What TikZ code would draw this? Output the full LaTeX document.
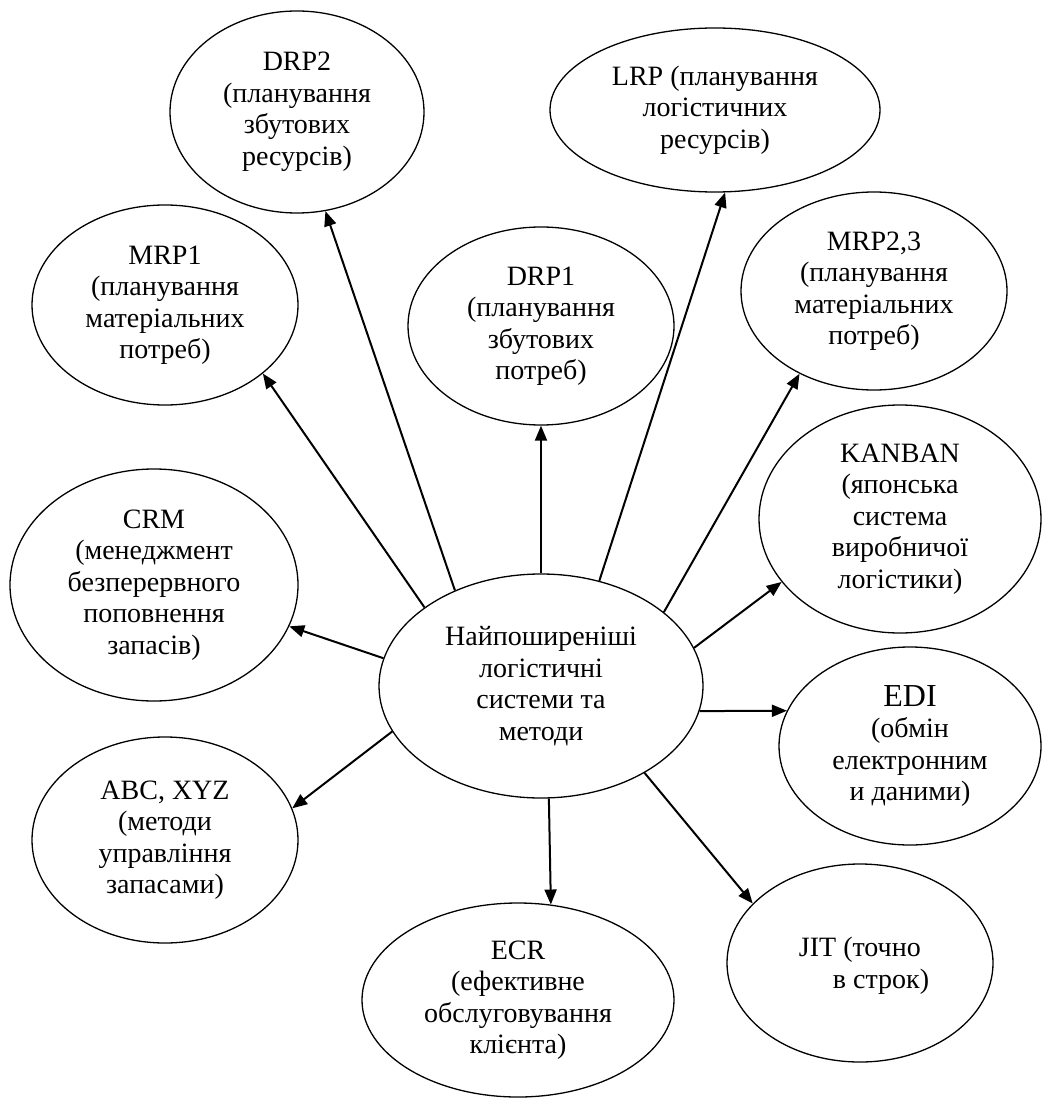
\documentclass[tikz,border=0pt]{standalone}
\usepackage{fontspec}
\setmainfont{Liberation Serif}
\usetikzlibrary{shapes.geometric,arrows.meta}
\begin{document}
\begin{tikzpicture}[x=1pt,y=-1pt,
  oval/.style={draw,ellipse,line width=1.3pt,inner sep=0pt,align=center,
    font=\fontsize{28}{31.5}\selectfont},
  arr/.style={line width=2pt,-{Triangle[length=15pt,width=12pt]}}]
\useasboundingbox (0,0) rectangle (1041,1099);
\node[oval,minimum width=324pt,minimum height=224pt] (c) at (541,686) {Найпоширеніші\\логістичні\\системи та\\методи};
\node[oval,minimum width=254pt,minimum height=202pt] (drp2) at (297,112) {DRP2\\(планування\\збутових\\ресурсів)};
\node[oval,minimum width=266pt,minimum height=200pt] (mrp1) at (165,305) {MRP1\\(планування\\матеріальних\\потреб)};
\node[oval,minimum width=266pt,minimum height=198pt] (drp1) at (541,326) {DRP1\\(планування\\збутових\\потреб)};
\node[oval,minimum width=330pt,minimum height=164pt] (lrp) at (715,110) {LRP (планування\\логістичних\\ресурсів)};
\node[oval,minimum width=266pt,minimum height=198pt] (mrp2) at (874,291) {MRP2,3\\(планування\\матеріальних\\потреб)};
\node[oval,minimum width=288pt,minimum height=232pt] (crm) at (154,585) {CRM\\(менеджмент\\безперервного\\поповнення\\запасів)};
\node[oval,minimum width=282pt,minimum height=228pt] (kanban) at (900,519) {KANBAN\\(японська\\система\\виробничої\\логістики)};
\node[oval,minimum width=262pt,minimum height=198pt] (edi) at (910,746) {{\fontsize{32}{34}\selectfont EDI}\\(обмін\\електронним\\и даними)};
\node[oval,minimum width=266pt,minimum height=206pt] (abc) at (165,840) {ABC, XYZ\\(методи\\управління\\запасами)};
\node[oval,minimum width=312pt,minimum height=194pt] (ecr) at (518,1000) {ECR\\(ефективне\\обслуговування\\клієнта)};
\node[oval,minimum width=266pt,minimum height=198pt,align=left,text depth=0pt] (jit) at (860,963) {\hspace*{8pt}JIT (точно\\\hspace*{42pt}в строк)};
\draw[arr] (c.132.8) -- (drp2.286.5);
\draw[arr] (c.146.1) -- (mrp1.325.3);
\draw[arr] (c.90) -- (drp1.270);
\draw[arr] (c.61.7) -- (lrp.277);
\draw[arr] (c.31.9) -- (mrp2.228.4);
\draw[arr] (c.14.9) -- (kanban.208);
\draw[arr] (c.-9.4) -- (edi.164.5);
\draw[arr] (c.170.8) -- (crm.343.2);
\draw[arr] (c.197.2) -- (abc.14.4);
\draw[arr] (c.274.6) -- (ecr.71.4);
\draw[arr] (c.320.1) -- (jit.151);
\end{tikzpicture}
\end{document}
